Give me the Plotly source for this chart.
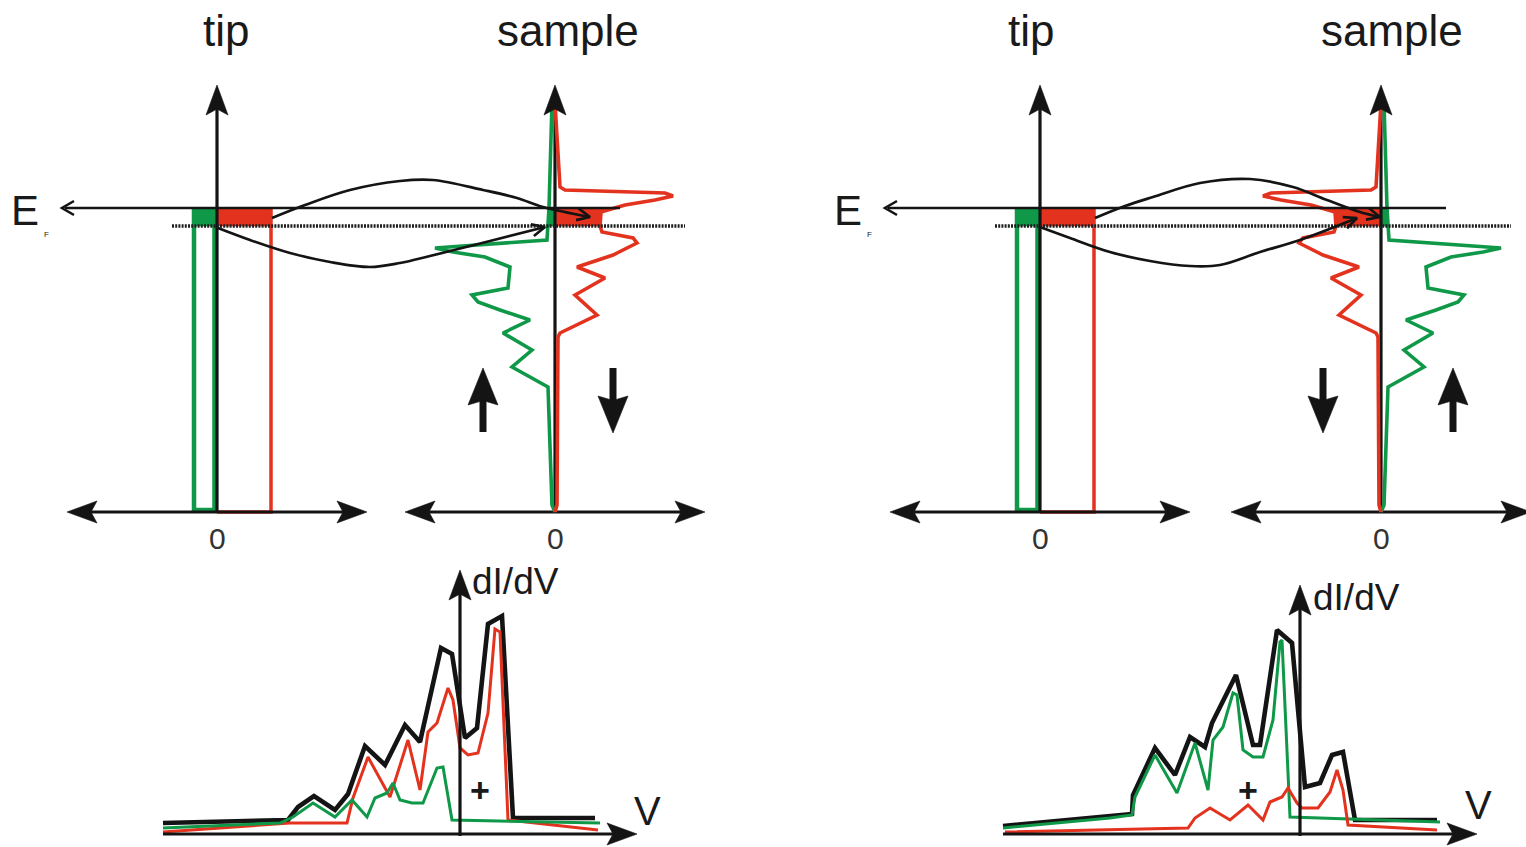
import numpy as np
import plotly.graph_objects as go

W, H = 1526, 847

GREEN = "#0f9848"
RED = "#e3321e"
INK = "#141414"
DOTS = "#1e1e1e"
FONT = "Liberation Sans, Arial, Helvetica, sans-serif"

# ---------------------------------------------------------------------------
# Band diagrams: energy in eV relative to E_F, DOS in arbitrary units
# ---------------------------------------------------------------------------
E_BIAS = -0.18        # lower edge of the bias window
E_AXIS = -3.04        # energy at which the DOS axis is drawn
E_ARROW_TIP = 1.23    # top of the energy axes
DOS_HALF_RANGE = 15.0

# spin-resolved tip DOS (flat bands)
TIP_DOS_UP = 2.3
TIP_DOS_DOWN = 5.4

# spin-resolved sample DOS
SAMPLE_E_UP = [1.05, 0.00, -0.32, -0.40, -0.44, -0.49, -0.59, -0.80, -0.87, -0.94,
               -1.02, -1.12, -1.25, -1.42, -1.59, -1.79, -2.97, -3.04]
SAMPLE_DOS_UP = [0.3, 0.6, 0.8, 12.0, 10.2, 7.0, 4.5, 4.7, 8.3, 7.7,
                 5.5, 2.5, 5.2, 2.3, 4.3, 0.7, 0.3, 0.0]
SAMPLE_E_DOWN = [1.05, 0.21, 0.18, 0.15, 0.12, 0.08, 0.03, -0.04, -0.18, -0.24,
                 -0.30, -0.35, -0.47, -0.59, -0.70, -0.87, -1.07, -1.25, -1.29, -2.97, -3.04]
SAMPLE_DOS_DOWN = [0.0, 0.5, 1.0, 11.0, 11.8, 10.0, 7.0, 4.6, 4.5, 4.7,
                   7.8, 8.2, 5.8, 2.2, 5.0, 2.0, 4.2, 0.5, 0.3, 0.2, 0.0]

# tunnelling paths (x: DOS units from the tip axis, y: energy)
A_PATH_DOWN_X = [5.5, 8.8, 13.3, 18.3, 21.6, 26.6, 30.0, 32.6, 37.3]
A_PATH_DOWN_E = [-0.10, 0.03, 0.18, 0.27, 0.28, 0.18, 0.10, 0.01, -0.09]
A_PATH_UP_X = [0.1, 3.3, 7.3, 11.3, 15.3, 18.3, 21.3, 27.3, 32.8]
A_PATH_UP_E = [-0.20, -0.32, -0.45, -0.54, -0.59, -0.55, -0.48, -0.33, -0.19]
B_PATH_DOWN_X = [5.5, 8.5, 11.3, 16.0, 21.0, 25.3, 28.7, 32.0, 34.0]
B_PATH_DOWN_E = [-0.10, 0.02, 0.11, 0.25, 0.29, 0.21, 0.08, -0.04, -0.09]
B_PATH_UP_X = [0.0, 3.0, 7.0, 11.0, 15.0, 18.0, 22.0, 26.0, 31.7]
B_PATH_UP_E = [-0.19, -0.30, -0.44, -0.53, -0.58, -0.57, -0.44, -0.32, -0.10]

# ---------------------------------------------------------------------------
# dI/dV spectra: bias in V, conductance in arbitrary units
# ---------------------------------------------------------------------------
A_V_TOTAL = [-2.97, -1.80, -1.72, -1.62, -1.46, -1.25, -1.12, -0.95, -0.75, -0.55,
             -0.40, -0.19, -0.08, 0.05, 0.17, 0.28, 0.42, 0.53, 1.35]
A_G_TOTAL = [1.1, 1.3, 1.4, 2.7, 3.8, 2.4, 4.0, 8.8, 6.9, 10.9,
             9.2, 18.6, 18.0, 9.6, 10.6, 21.0, 21.8, 1.6, 1.6]
A_V_DOWN = [-2.97, -1.70, -1.13, -1.07, -0.92, -0.70, -0.52, -0.40, -0.32, -0.23,
            -0.12, -0.07, 0.00, 0.08, 0.18, 0.28, 0.35, 0.40, 0.48, 1.38]
A_G_DOWN = [0.2, 1.1, 1.1, 3.6, 7.7, 3.7, 9.4, 4.4, 10.2, 11.1,
            14.6, 13.4, 8.6, 7.9, 8.1, 12.1, 20.5, 20.2, 1.4, 0.4]
A_V_UP = [-2.97, -1.80, -1.67, -1.47, -1.25, -1.08, -0.93, -0.85, -0.73, -0.67,
          -0.60, -0.48, -0.37, -0.23, -0.17, -0.08, 1.40]
A_G_UP = [0.6, 1.1, 1.7, 3.1, 1.7, 3.4, 1.7, 3.6, 4.1, 5.1,
          3.4, 3.1, 3.1, 6.6, 6.7, 1.4, 1.1]

B_V_TOTAL = [-2.97, -1.90, -1.68, -1.67, -1.45, -1.25, -1.10, -0.95, -0.88, -0.64,
             -0.47, -0.40, -0.23, -0.08, 0.05, 0.20, 0.32, 0.43, 0.55, 1.37]
B_G_TOTAL = [0.8, 1.8, 2.0, 3.9, 8.6, 5.9, 9.7, 8.7, 11.1, 15.9,
             8.9, 8.9, 20.4, 19.1, 4.7, 5.1, 7.9, 8.2, 1.4, 1.4]
B_V_UP = [-2.97, -1.90, -1.68, -1.65, -1.45, -1.23, -1.05, -0.92, -0.87, -0.77,
          -0.67, -0.63, -0.57, -0.47, -0.37, -0.27, -0.20, -0.18, -0.10, 1.40]
B_G_UP = [0.6, 1.6, 1.9, 3.7, 7.9, 4.1, 9.1, 4.4, 9.4, 10.7,
          14.1, 13.9, 8.4, 7.7, 7.7, 11.4, 19.2, 19.4, 1.7, 1.2]
B_V_DOWN = [-2.95, -1.12, -1.05, -0.90, -0.70, -0.52, -0.37, -0.30, -0.18, -0.12,
            -0.03, 0.02, 0.18, 0.30, 0.37, 0.43, 0.48, 1.37]
B_G_DOWN = [0.2, 0.6, 1.6, 2.6, 1.4, 2.9, 1.4, 3.2, 3.7, 4.6,
            3.1, 2.6, 2.6, 4.2, 6.4, 4.4, 0.9, 0.4]


class Frame:
    """A pair of hidden axes with a linear data <-> pixel mapping."""

    def __init__(self, n, ox, oy, sx, sy, xpx, ypx):
        self.ox, self.oy, self.sx, self.sy = ox, oy, sx, sy
        self.xpx, self.ypx = xpx, ypx
        self.n = n
        self.xref = "x" if n == 1 else f"x{n}"
        self.yref = "y" if n == 1 else f"y{n}"

    def to_px(self, x, y):
        return self.ox + x * self.sx, self.oy - y * self.sy

    def from_px(self, px, py):
        return (px - self.ox) / self.sx, (self.oy - py) / self.sy

    def layout(self):
        x0, x1 = self.xpx
        y0, y1 = self.ypx
        xa = dict(domain=[x0 / W, x1 / W],
                  range=[(x0 - self.ox) / self.sx, (x1 - self.ox) / self.sx],
                  visible=False, fixedrange=True, anchor=self.yref)
        ya = dict(domain=[1 - y1 / H, 1 - y0 / H],
                  range=[(self.oy - y1) / self.sy, (self.oy - y0) / self.sy],
                  visible=False, fixedrange=True, anchor=self.xref)
        key = "" if self.n == 1 else str(self.n)
        return {f"xaxis{key}": xa, f"yaxis{key}": ya}


traces = []
annotations = []


def line(fr, xs, ys, color=INK, width=3, dash=None, shape="linear"):
    traces.append(go.Scatter(
        x=list(xs), y=list(ys), xaxis=fr.xref, yaxis=fr.yref, mode="lines",
        line=dict(color=color, width=width, dash=dash, shape=shape),
        hoverinfo="skip", showlegend=False))


def area(fr, xs, ys, color):
    traces.append(go.Scatter(
        x=list(xs), y=list(ys), xaxis=fr.xref, yaxis=fr.yref, mode="lines",
        fill="toself", fillcolor=color, line=dict(color=color, width=0.6),
        hoverinfo="skip", showlegend=False))


def _frame_dir(fr, tip, frm):
    tx, ty = fr.to_px(*tip)
    fx, fy = fr.to_px(*frm)
    d = np.hypot(tx - fx, ty - fy)
    return tx, ty, (tx - fx) / d, (ty - fy) / d


def head(fr, tip, frm, length=30, half=11, notch=0.8, color=INK):
    tx, ty, ux, uy = _frame_dir(fr, tip, frm)
    nx, ny = -uy, ux
    bx, by = tx - ux * length, ty - uy * length
    pts = [(tx, ty), (bx + nx * half, by + ny * half),
           (tx - ux * length * notch, ty - uy * length * notch),
           (bx - nx * half, by - ny * half), (tx, ty)]
    xs, ys = zip(*[fr.from_px(px, py) for px, py in pts])
    area(fr, xs, ys, color)


def chevron(fr, tip, frm, length=13, half=6.5, width=2.5, color=INK):
    tx, ty, ux, uy = _frame_dir(fr, tip, frm)
    nx, ny = -uy, ux
    bx, by = tx - ux * length, ty - uy * length
    pts = [(bx + nx * half, by + ny * half), (tx, ty), (bx - nx * half, by - ny * half)]
    xs, ys = zip(*[fr.from_px(px, py) for px, py in pts])
    line(fr, xs, ys, color=color, width=width)


def shaft_end(fr, tip, frm, back):
    tx, ty, ux, uy = _frame_dir(fr, tip, frm)
    return fr.from_px(tx - ux * back, ty - uy * back)


def axis_arrow(fr, start, end, both=False, width=3, length=30, half=11):
    s = shaft_end(fr, start, end, length * 0.7) if both else start
    e = shaft_end(fr, end, start, length * 0.7)
    line(fr, [s[0], e[0]], [s[1], e[1]], width=width)
    head(fr, end, start, length, half)
    if both:
        head(fr, start, end, length, half)


def label(text, px, py, size, xanchor="center", yanchor="middle", color="#1a1a1a"):
    annotations.append(dict(
        text=text, x=px / W, y=1 - py / H, xref="paper", yref="paper",
        showarrow=False, xanchor=xanchor, yanchor=yanchor,
        font=dict(family=FONT, size=size, color=color)))


def window_fill(fr, x0, side, energies, dos, color):
    e = np.array(energies[::-1])
    d = np.array(dos[::-1])
    inner = [(ei, di) for ei, di in zip(e, d) if E_BIAS < ei < 0.0]
    pts = [(E_BIAS, np.interp(E_BIAS, e, d))] + inner + [(0.0, np.interp(0.0, e, d))]
    xs = [x0] + [x0 + side * di for _, di in pts] + [x0]
    ys = [E_BIAS] + [ei for ei, _ in pts] + [0.0]
    area(fr, xs, ys, color)


def band_panel(fr, gap, up_side, path_down, path_up):
    # bias window in the tip
    area(fr, [-TIP_DOS_UP, 0, 0, -TIP_DOS_UP], [E_BIAS, E_BIAS, 0, 0], GREEN)
    area(fr, [0, TIP_DOS_DOWN, TIP_DOS_DOWN, 0], [E_BIAS, E_BIAS, 0, 0], RED)
    # tip bands
    line(fr, [-TIP_DOS_UP, -TIP_DOS_UP, -0.25, -0.25], [0, E_AXIS + 0.02, E_AXIS + 0.02, 0],
         color=GREEN, width=4.5)
    line(fr, [0, TIP_DOS_DOWN, TIP_DOS_DOWN], [E_AXIS, E_AXIS, 0], color=RED, width=3.5)

    # bias window in the sample
    window_fill(fr, gap, up_side, SAMPLE_E_UP, SAMPLE_DOS_UP, GREEN)
    window_fill(fr, gap, -up_side, SAMPLE_E_DOWN, SAMPLE_DOS_DOWN, RED)

    # axes
    for x0 in (0.0, gap):
        axis_arrow(fr, (x0 - DOS_HALF_RANGE, E_AXIS), (x0 + DOS_HALF_RANGE, E_AXIS),
                   both=True, width=3.2)
        e = shaft_end(fr, (x0, E_ARROW_TIP), (x0, E_AXIS), 21)
        line(fr, [x0, x0], [E_AXIS, e[1]], width=3.2)

    # sample DOS curves
    line(fr, [gap + up_side * d for d in SAMPLE_DOS_UP], SAMPLE_E_UP, color=GREEN, width=3.6)
    line(fr, [gap - up_side * d for d in SAMPLE_DOS_DOWN], SAMPLE_E_DOWN, color=RED, width=3.6)

    for x0 in (0.0, gap):
        head(fr, (x0, E_ARROW_TIP), (x0, E_AXIS), 30, 11)

    # Fermi level and bias level
    ef_left, ef_right = -15.5, gap + 6.5
    line(fr, [ef_left + 0.3, ef_right], [0, 0], width=2.6)
    chevron(fr, (ef_left, 0), (ef_right, 0), length=12, half=7, width=2.6)
    line(fr, [-4.5, gap + 13.0], [E_BIAS, E_BIAS], color=DOTS, width=3.6, dash="2px,1.2px")

    # tunnelling channels
    for xs, es in (path_down, path_up):
        line(fr, xs, es, width=2.7, shape="spline")
        chevron(fr, (xs[-1], es[-1]), (xs[-2], es[-2]), length=13, half=6, width=2.7)

    # spin labels
    for x, e0, e1 in ((gap + up_side * 7.2, -2.24, -1.60), (gap - up_side * 5.8, -1.60, -2.25)):
        s = shaft_end(fr, (x, e1), (x, e0), 30)
        line(fr, [x, x], [e0, s[1]], width=7)
        head(fr, (x, e1), (x, e0), 37, 15, notch=0.88)


def didv_panel(fr, v_top, g_top, curves):
    for v, g, color, width in curves:
        line(fr, v, g, color=color, width=width)
    axis_arrow(fr, (-2.97, 0.0), (v_top, 0.0), width=3.2, length=30, half=11)
    axis_arrow(fr, (0.0, -0.2), (0.0, g_top), width=3.2, length=30, half=11)


A_top = Frame(1, 217, 208, 10, 100, (0, 763), (0, 545))
B_top = Frame(2, 1040, 208, 10, 100, (763, 1526), (0, 545))
A_bot = Frame(3, 460, 834, 100, 10, (0, 763), (545, 847))
B_bot = Frame(4, 1300, 834, 100, 10, (763, 1526), (545, 847))

band_panel(A_top, 33.8, -1, (A_PATH_DOWN_X, A_PATH_DOWN_E), (A_PATH_UP_X, A_PATH_UP_E))
band_panel(B_top, 34.1, +1, (B_PATH_DOWN_X, B_PATH_DOWN_E), (B_PATH_UP_X, B_PATH_UP_E))

didv_panel(A_bot, 1.77, 26.4, [(A_V_TOTAL, A_G_TOTAL, INK, 4.6),
                               (A_V_DOWN, A_G_DOWN, RED, 3.0),
                               (A_V_UP, A_G_UP, GREEN, 3.0)])
didv_panel(B_bot, 1.77, 24.9, [(B_V_TOTAL, B_G_TOTAL, INK, 4.6),
                               (B_V_UP, B_G_UP, GREEN, 3.0),
                               (B_V_DOWN, B_G_DOWN, RED, 3.0)])

# text
for dx, tip_x, sample_x in ((0, 226, 568), (823, 1031, 1392)):
    label("tip", tip_x, 31, 44)
    label("sample", sample_x, 31, 44)
    label("E", 25 + dx, 210, 42)
    label("F", 46 + dx, 234, 8)
label("0", 217, 538, 30, color="#333333")
label("0", 555, 538, 30, color="#333333")
label("0", 1040, 538, 30, color="#333333")
label("0", 1381, 538, 30, color="#333333")
label("dI/dV", 470, 581, 37, xanchor="left")
label("dI/dV", 1311, 597, 37, xanchor="left")
label("V", 647, 811, 40)
label("V", 1478, 805, 40)
label("<b>+</b>", 480, 790, 34)
label("<b>+</b>", 1248, 790, 34)

fig = go.Figure(traces)
layout = dict(width=W, height=H, margin=dict(l=0, r=0, t=0, b=0),
              paper_bgcolor="white", plot_bgcolor="white", showlegend=False,
              annotations=annotations)
for fr in (A_top, B_top, A_bot, B_bot):
    layout.update(fr.layout())
fig.update_layout(**layout)
fig.write_html("out.html", config={"displayModeBar": False})
